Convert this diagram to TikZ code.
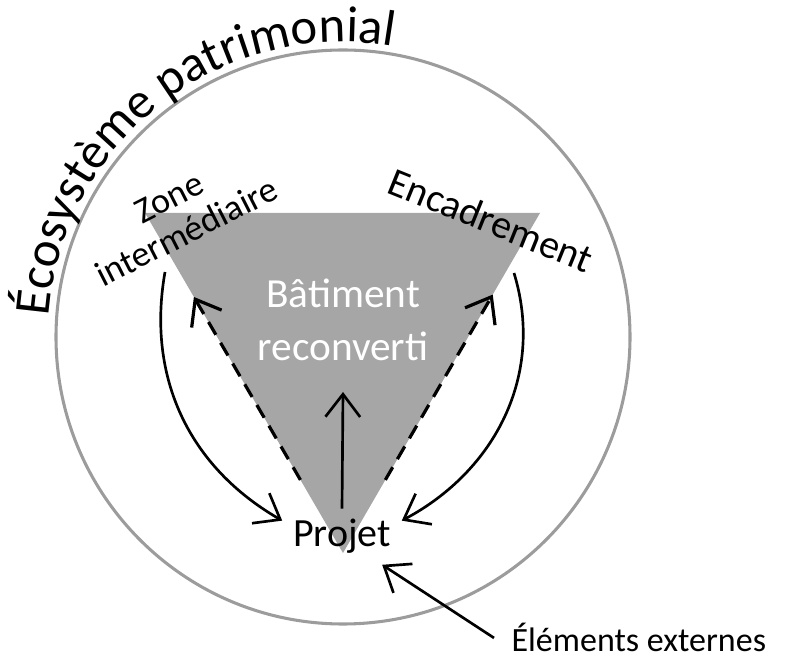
\documentclass[tikz,border=0pt]{standalone}
\usepackage{fontspec}
\setmainfont{Carlito}
\usetikzlibrary{arrows.meta,calc,decorations.text}

\definecolor{triGray}{HTML}{A6A6A6}
\definecolor{ringGray}{HTML}{9C9C9C}

\tikzset{
  Ring/.style   = {draw=ringGray, line width=2.3pt},
  Arrow/.style  = {line width=2pt, -{Straight Barb[length=17pt,width=26pt]}},
  Dashed/.style = {Arrow, line width=2.4pt, dash pattern=on 11pt off 7pt},
  Label/.style  = {inner sep=8pt, font=\fontsize{30}{36}\selectfont}
}

\begin{document}
\begin{tikzpicture}[x=0.75pt,y=0.75pt]
 \useasboundingbox (0,0) rectangle (785,660);
 \coordinate (C)  at (343,323);
 \coordinate (TL) at (145,447);
 \coordinate (TR) at (540,447);
 \coordinate (B)  at (343,107);
 \coordinate (up) at (343,268);
 \coordinate (zl) at (165,388);
 \coordinate (zr) at (514,387);

 % ecosysteme
 \draw[Ring] (C) circle[radius=287];
 \path[decorate, decoration={text along path, text align=left,
   text={|\fontsize{38}{40}\selectfont|Écosystème patrimonial}}]
   ($(C)+(176:295)$) arc[start angle=176, end angle=60, radius=295];

 % batiment
 \fill[triGray] (TL) -- (TR) -- (B) -- cycle;
 \node[Label, white, align=center, font=\fontsize{31}{40}\selectfont] (bat) at (343,340) {Bâtiment\\reconverti};
 \node[Label, anchor=base] (projet) at (342,113) {Projet};
 \node[Label, rotate=-22] (enc) at (491,440) {Encadrement};
 \node[Label, rotate=27, align=center, font=\fontsize{27}{29}\selectfont] (zone) at (178,445) {Zone\\intermédiaire};
 \node[Label, anchor=base west, inner xsep=13pt, inner ysep=2pt, font=\fontsize{25.5}{30}\selectfont] (ext) at (494,8) {Éléments externes};

 % fleches
 \draw[Arrow] (projet.north) -- (up);
 \draw[Dashed] ($(B)!0.215!(TL)$) -- ($(B)!0.753!(TL)$);
 \draw[Dashed] ($(B)!0.215!(TR)$) -- ($(B)!0.76!(TR)$);
 \draw[Arrow] (zl) to[out=260,in=150] (projet.165);
 \draw[Arrow] (zr) to[out=287,in=28] (projet.15);
 \draw[Arrow] (ext.west) -- (projet.-35);
\end{tikzpicture}
\end{document}
